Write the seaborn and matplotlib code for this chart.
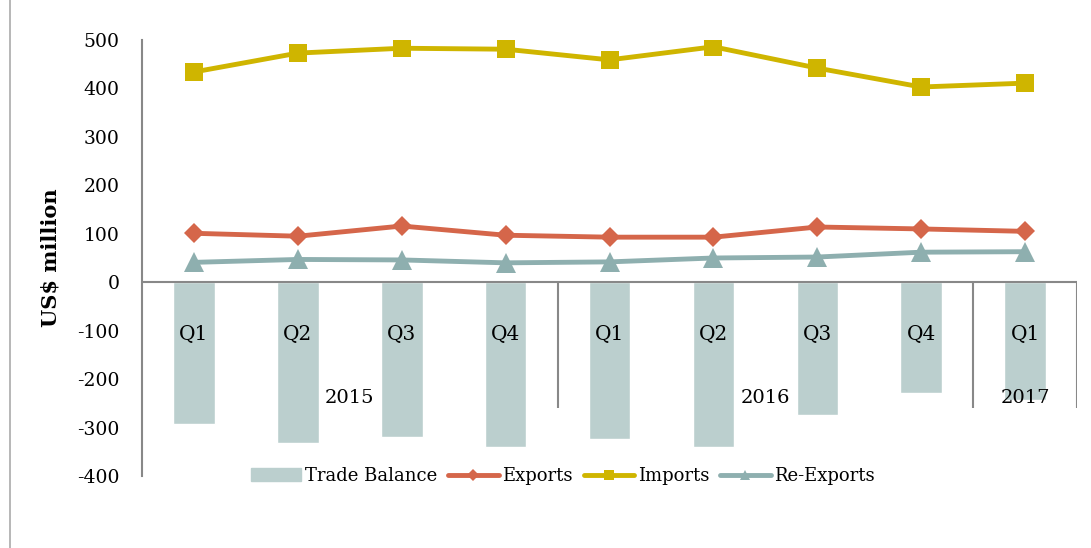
import numpy as np
import pandas as pd
import matplotlib
matplotlib.use("Agg")
import matplotlib.pyplot as plt
import seaborn as sns
from matplotlib.lines import Line2D
from matplotlib.patches import Patch

# data (US$ million)
quarters = ["Q1", "Q2", "Q3", "Q4", "Q1", "Q2", "Q3", "Q4", "Q1"]
years = ["2015", "2016", "2017"]
year_sizes = [4, 4, 1]
trade_balance = [-293, -331, -320, -341, -324, -341, -275, -229, -244]
exports = [101, 95, 116, 97, 93, 93, 114, 110, 105]
imports = [434, 473, 483, 481, 459, 486, 442, 403, 411]
re_exports = [41, 47, 46, 40, 42, 50, 52, 62, 63]

C_BAL = "#bbcfce"
C_EXP = "#d5664a"
C_IMP = "#cfb500"
C_REX = "#8eafaf"

sns.set_theme(style="white")
plt.rcParams["font.family"] = ["DejaVu Serif"]
plt.rcParams["axes.unicode_minus"] = False
plt.rcParams["text.color"] = "black"
plt.rcParams["ytick.color"] = "black"
plt.rcParams["axes.labelcolor"] = "black"

df = pd.DataFrame({
    "pos": np.arange(len(quarters)),
    "balance": trade_balance,
    "exports": exports,
    "imports": imports,
    "re_exports": re_exports,
})

fig = plt.figure(figsize=(10.91, 5.48), dpi=100)
ax = fig.add_axes([0.1302, 0.1314, 0.857, 0.7956])

sns.barplot(data=df, x="pos", y="balance", color=C_BAL, width=0.4,
            saturation=1, ax=ax, zorder=1)
ax.set_xlim(-0.5, len(quarters) - 0.5)

for col, c, m, ms in [("exports", C_EXP, "D", 10),
                      ("imports", C_IMP, "s", 13),
                      ("re_exports", C_REX, "^", 14)]:
    sns.lineplot(x=np.arange(len(quarters)), y=df[col], color=c, marker=m,
                 markersize=ms, markeredgewidth=0, linewidth=3.5, ax=ax, zorder=3)

ax.set_ylim(-400, 500)
ax.set_yticks(range(-400, 501, 100))
ax.tick_params(axis="y", labelsize=13.5, length=0, pad=16)
ax.set_xticks([])
ax.set_xlabel("")
ax.set_ylabel("US$ million", fontsize=15, fontweight="bold", labelpad=12)

for s in ["top", "right", "bottom"]:
    ax.spines[s].set_visible(False)
ax.spines["left"].set_color("#888888")
ax.spines["left"].set_linewidth(1.5)
ax.axhline(0, color="#888888", lw=1.5, zorder=2)

# category labels inside the bars
for i, q in enumerate(quarters):
    ax.text(i, -108, q, ha="center", va="center", fontsize=14.5, zorder=4)

# year group labels and separators
start = 0
bounds = []
for y, n in zip(years, year_sizes):
    ax.text(start + (n - 1) / 2, -240, y, ha="center", va="center",
            fontsize=14, zorder=4)
    start += n
    bounds.append(start - 0.5)
ax.vlines(bounds, -260, 0, color="#888888", lw=1.5, zorder=2)

handles = [
    Patch(color=C_BAL),
    Line2D([], [], color=C_EXP, lw=3.5, marker="D", ms=6, mew=0),
    Line2D([], [], color=C_IMP, lw=3.5, marker="s", ms=7, mew=0),
    Line2D([], [], color=C_REX, lw=3.5, marker="^", ms=7, mew=0),
]
ax.legend(handles, ["Trade Balance", "Exports", "Imports", "Re-Exports"],
          loc="center", bbox_to_anchor=(0.45, 0.0), ncol=4, frameon=False,
          fontsize=13, handlelength=2.8, handletextpad=0.2, columnspacing=0.6)

# outer chart-area border on the left
fig.add_artist(Line2D([0.009, 0.009], [0, 1], transform=fig.transFigure,
                      color="#aaaaaa", lw=1.2))

fig.savefig("out.png", dpi=100)
